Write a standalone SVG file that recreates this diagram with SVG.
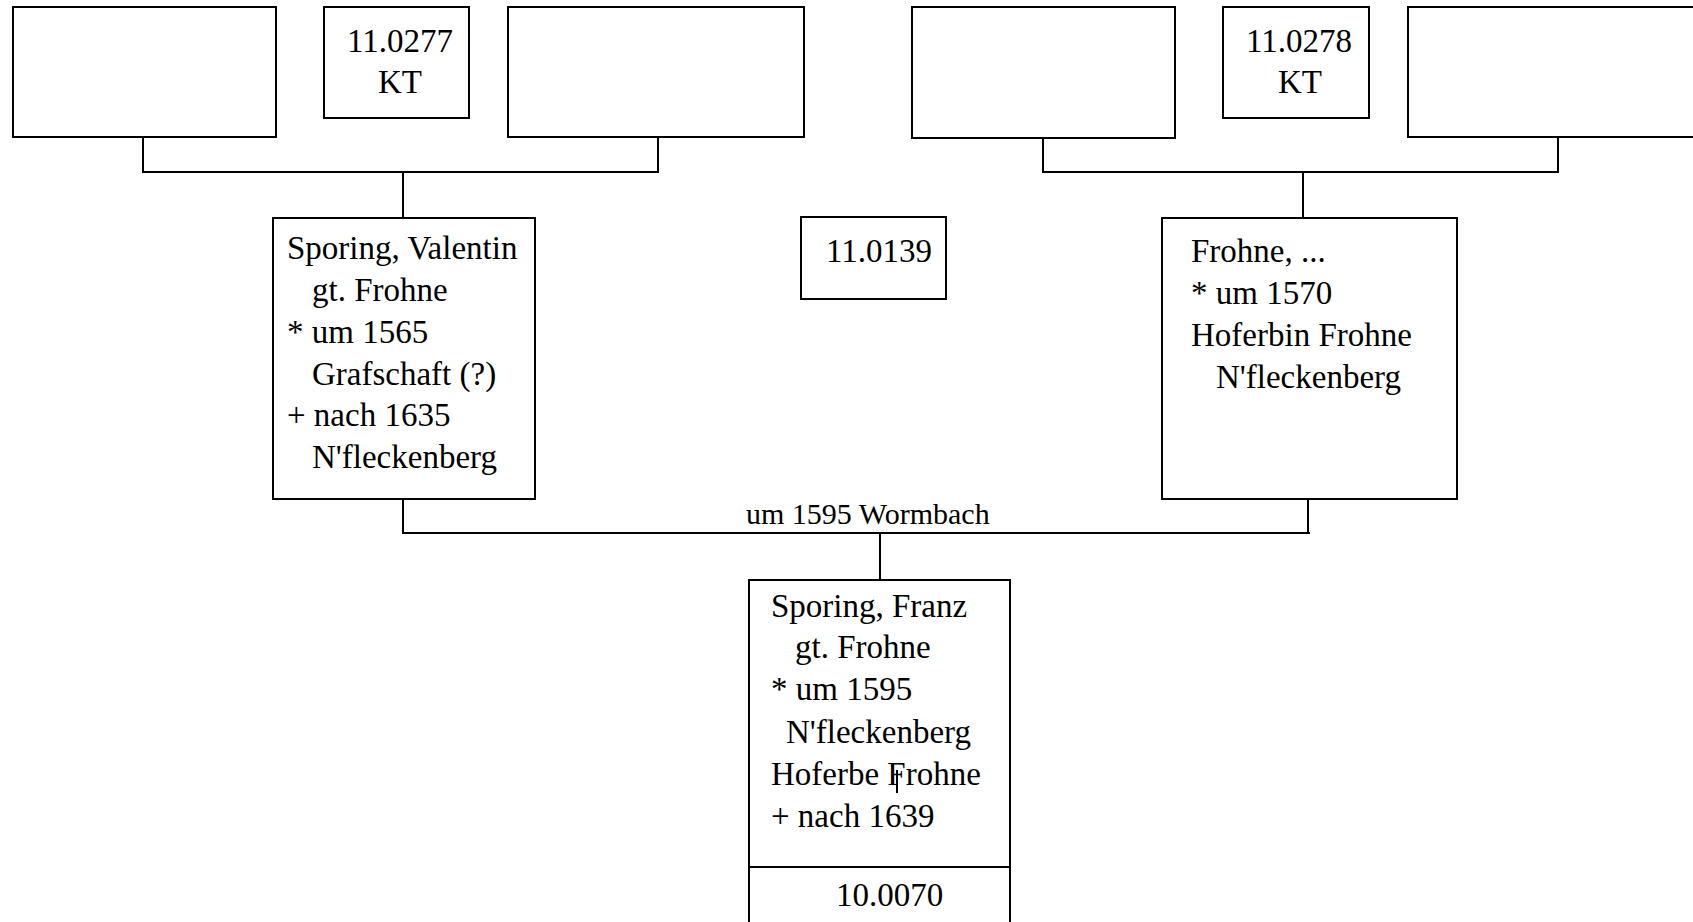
<svg xmlns="http://www.w3.org/2000/svg" width="1693" height="922" viewBox="0 0 1693 922">
<style>
.box{fill:#fff;stroke:#000;stroke-width:2}
.t{font-family:"Liberation Serif","Times New Roman",serif;font-size:33px;fill:#000}
.lbl{font-family:"Liberation Serif","Times New Roman",serif;font-size:30px;fill:#000}
.con{fill:none;stroke:#000;stroke-width:2}
</style>
<rect width="1693" height="922" fill="#fff"/>
<g id="connectors">
<path class="con" d="M143 137V172H658V137M403 172V218"/>
<path class="con" d="M1043 138V172H1558V137M1303 172V218"/>
<path class="con" d="M403 499V533H1310M1308 499V533M880 533V580"/>
<text class="lbl" x="746" y="524">um 1595 Wormbach</text>
</g>
<g id="node-a"><rect class="box" x="13" y="7" width="263" height="130"/></g>
<g id="node-11-0277"><rect class="box" x="324" y="7" width="145" height="111"/>
<text class="t" x="347" y="52">11.0277</text><text class="t" x="378" y="93">KT</text></g>
<g id="node-c"><rect class="box" x="508" y="7" width="296" height="130"/></g>
<g id="node-d"><rect class="box" x="912" y="7" width="263" height="131"/></g>
<g id="node-11-0278"><rect class="box" x="1223" y="7" width="146" height="111"/>
<text class="t" x="1246" y="52">11.0278</text><text class="t" x="1278" y="93">KT</text></g>
<g id="node-f"><rect class="box" x="1408" y="7" width="300" height="130"/></g>
<g id="node-valentin"><rect class="box" x="273" y="218" width="262" height="281"/>
<text class="t" x="287" y="259">Sporing, Valentin</text>
<text class="t" x="312" y="301">gt. Frohne</text>
<text class="t" x="287" y="343">* um 1565</text>
<text class="t" x="312" y="385">Grafschaft (?)</text>
<text class="t" x="287" y="426">+ nach 1635</text>
<text class="t" x="312" y="468">N'fleckenberg</text></g>
<g id="node-11-0139"><rect class="box" x="801" y="217" width="145" height="82"/>
<text class="t" x="826" y="262">11.0139</text></g>
<g id="node-frohne"><rect class="box" x="1162" y="218" width="295" height="281"/>
<text class="t" x="1191" y="262">Frohne, ...</text>
<text class="t" x="1191" y="304">* um 1570</text>
<text class="t" x="1191" y="346">Hoferbin Frohne</text>
<text class="t" x="1216" y="388">N'fleckenberg</text></g>
<g id="node-franz"><rect class="box" x="749" y="580" width="261" height="360"/>
<line x1="749" y1="867" x2="1010" y2="867" stroke="#000" stroke-width="2"/>
<text class="t" x="771" y="617">Sporing, Franz</text>
<text class="t" x="795" y="658">gt. Frohne</text>
<text class="t" x="771" y="700">* um 1595</text>
<text class="t" x="786" y="743">N'fleckenberg</text>
<text class="t" x="771" y="785">Hoferbe Frohne</text>
<text class="t" x="771" y="827">+ nach 1639</text>
<text class="t" x="836" y="906">10.0070</text></g>
<path class="con" d="M897 770V793" stroke-width="1.5"/>
</svg>
